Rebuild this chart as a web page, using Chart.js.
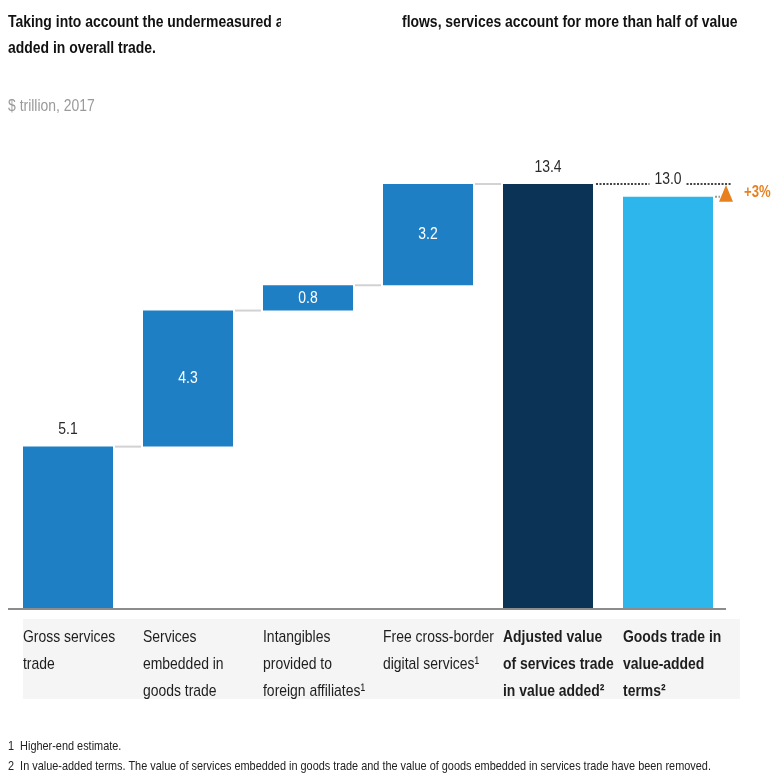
<!DOCTYPE html>
<html>
<head>
<meta charset="utf-8">
<script src="https://cdn.jsdelivr.net/npm/chart.js@4/dist/chart.umd.min.js"></script>
<style>
  html, body { margin: 0; padding: 0; background: #fff; }
  #wrap { position: relative; width: 773px; height: 774px; overflow: hidden; font-family: 'Liberation Sans', Arial, sans-serif; }
  canvas { position: absolute; left: 0; top: 0; }
  .t { position: absolute; white-space: nowrap; transform: scaleX(0.82); transform-origin: 0 0; }
  .title { font-weight: bold; font-size: 17px; color: #111; line-height: 26px; }
  .sub { font-size: 17px; color: #9a9a9a; line-height: 20px; }
  .fn { font-size: 13.3px; color: #222; line-height: 16px; }
</style>
</head>
<body>
<div id="wrap">
  <canvas id="c" width="773" height="774"></canvas>
  <div class="t title" style="left:8px; top:9px; width:333px; overflow:hidden;">Taking into account the undermeasured a</div>
  <div class="t title" style="left:402px; top:9px;">flows, services account for more than half of value</div>
  <div class="t title" style="left:8px; top:35px;">added in overall trade.</div>
  <div class="t sub" style="left:8px; top:96px;">$ trillion, 2017</div>
  <div class="t fn" style="left:8px; top:738px;">1&nbsp;&nbsp;Higher-end estimate.</div>
  <div class="t fn" style="left:8px; top:758px;">2&nbsp;&nbsp;In value-added terms. The value of services embedded in goods trade and the value of goods embedded in services trade have been removed.</div>
</div>
<script>
// ---- data ----
const categories = [
  ["Gross services", "trade"],
  ["Services", "embedded in", "goods trade"],
  ["Intangibles", "provided to", "foreign affiliates\u00B9"],
  ["Free cross-border", "digital services\u00B9"],
  ["Adjusted value", "of services trade", "in value added\u00B2"],
  ["Goods trade in", "value-added", "terms\u00B2"]
];
const values = [5.1, 4.3, 0.8, 3.2, 13.4, 13.0];
const kinds = ["total", "step", "step", "step", "total", "total"];
const valueLabels = ["5.1", "4.3", "0.8", "3.2", "13.4", "13.0"];
const boldLabels = [false, false, false, false, true, true];
const changeLabel = "+3%";

// ---- build floating ranges ----
const ranges = [];
let running = 0;
values.forEach((v, i) => {
  if (kinds[i] === "total") { ranges.push([0, v]); running = v; }
  else { ranges.push([running, running + v]); running += v; }
});
const ends = ranges.map(r => r[1]);

const FONT = "'Liberation Sans', Arial, sans-serif";
const NARROW = 0.82;
const colors = ["#1f7fc4", "#1f7fc4", "#1f7fc4", "#1f7fc4", "#0b3356", "#2cb6ec"];

function narrowText(ctx, text, x, y, align) {
  ctx.save();
  ctx.translate(x, y);
  ctx.scale(NARROW, 1);
  ctx.textAlign = align || "left";
  ctx.fillText(text, 0, 0);
  ctx.restore();
}
function narrowWidth(ctx, text) { return ctx.measureText(text).width * NARROW; }

const deco = {
  id: "deco",
  beforeDraw(chart) {
    const ctx = chart.ctx;
    const ca = chart.chartArea;
    ctx.save();
    ctx.fillStyle = "#f5f5f5";
    ctx.fillRect(23, ca.bottom + 11, 717, 80);
    ctx.restore();
  },
  afterDatasetsDraw(chart) {
    const ctx = chart.ctx;
    const ys = chart.scales.y;
    const xs = chart.scales.x;
    const meta = chart.getDatasetMeta(0);
    const ca = chart.chartArea;
    const el = meta.data;
    const left = i => el[i].x - el[i].width / 2;
    const right = i => el[i].x + el[i].width / 2;
    ctx.save();
    // axis line
    ctx.strokeStyle = "#8c8c8c";
    ctx.lineWidth = 2;
    ctx.beginPath();
    ctx.moveTo(ca.left, ca.bottom + 1);
    ctx.lineTo(ca.right - 2, ca.bottom + 1);
    ctx.stroke();
    // category labels (condensed look)
    ctx.fillStyle = "#1e1e1e";
    ctx.textBaseline = "middle";
    categories.forEach((lines, i) => {
      const x0 = xs.getPixelForValue(i) - el[i].width / 2;
      ctx.font = (boldLabels[i] ? "bold " : "") + "17px " + FONT;
      lines.forEach((ln, j) => narrowText(ctx, ln, x0, ca.bottom + 29 + j * 27.2, "left"));
    });
    // connectors
    ctx.strokeStyle = "#d2d2d2";
    ctx.lineWidth = 2;
    for (let i = 0; i < 4; i++) {
      const y = ys.getPixelForValue(ends[i]);
      ctx.beginPath();
      ctx.moveTo(right(i) + 2, y);
      ctx.lineTo(left(i + 1) - 2, y);
      ctx.stroke();
    }
    // value labels
    ctx.font = "17px " + FONT;
    ctx.textBaseline = "middle";
    valueLabels.forEach((lab, i) => {
      const cx = el[i].x;
      if (kinds[i] === "step") {
        ctx.fillStyle = "#ffffff";
        const yc = (ys.getPixelForValue(ranges[i][0]) + ys.getPixelForValue(ranges[i][1])) / 2;
        narrowText(ctx, lab, cx, yc, "center");
      } else {
        ctx.fillStyle = "#2a2a2a";
        narrowText(ctx, lab, cx, ys.getPixelForValue(ranges[i][1]) - 17, "center");
      }
    });
    // dotted comparison line
    const yTop = ys.getPixelForValue(values[4]);
    const yLow = ys.getPixelForValue(values[5]);
    const lab6w = narrowWidth(ctx, valueLabels[5]);
    const triX = 726;
    ctx.strokeStyle = "#444";
    ctx.lineWidth = 2;
    ctx.setLineDash([2, 1.5]);
    ctx.beginPath();
    ctx.moveTo(right(4) + 3, yTop);
    ctx.lineTo(el[5].x - lab6w / 2 - 5, yTop);
    ctx.moveTo(el[5].x + lab6w / 2 + 5, yTop);
    ctx.lineTo(triX + 6, yTop);
    ctx.stroke();
    ctx.strokeStyle = "#999";
    ctx.beginPath();
    ctx.moveTo(right(5) + 2, yLow);
    ctx.lineTo(triX - 6, yLow);
    ctx.stroke();
    ctx.setLineDash([]);
    // triangle
    ctx.fillStyle = "#e8801f";
    ctx.beginPath();
    ctx.moveTo(triX - 7, yLow + 5);
    ctx.lineTo(triX + 7, yLow + 5);
    ctx.lineTo(triX, yTop + 1);
    ctx.closePath();
    ctx.fill();
    ctx.font = "bold 16px " + FONT;
    narrowText(ctx, changeLabel, 744, (yTop + yLow) / 2 + 2, "left");
    ctx.restore();
  }
};

new Chart(document.getElementById("c"), {
  type: "bar",
  data: {
    labels: categories,
    datasets: [{
      data: ranges,
      backgroundColor: colors,
      borderWidth: 0,
      borderSkipped: false,
      barPercentage: 0.75,
      categoryPercentage: 1.0
    }]
  },
  options: {
    responsive: false,
    animation: false,
    layout: { padding: { left: 8, right: 45, top: 165, bottom: 0 } },
    plugins: { legend: { display: false }, tooltip: { enabled: false } },
    scales: {
      y: { display: false, min: 0, max: 14 },
      x: {
        grid: { display: false },
        border: { display: false },
        ticks: { display: false },
        afterFit(s) { s.height = 166; s.paddingLeft = 0; s.paddingRight = 0; }
      }
    }
  },
  plugins: [deco]
});
</script>
</body>
</html>
